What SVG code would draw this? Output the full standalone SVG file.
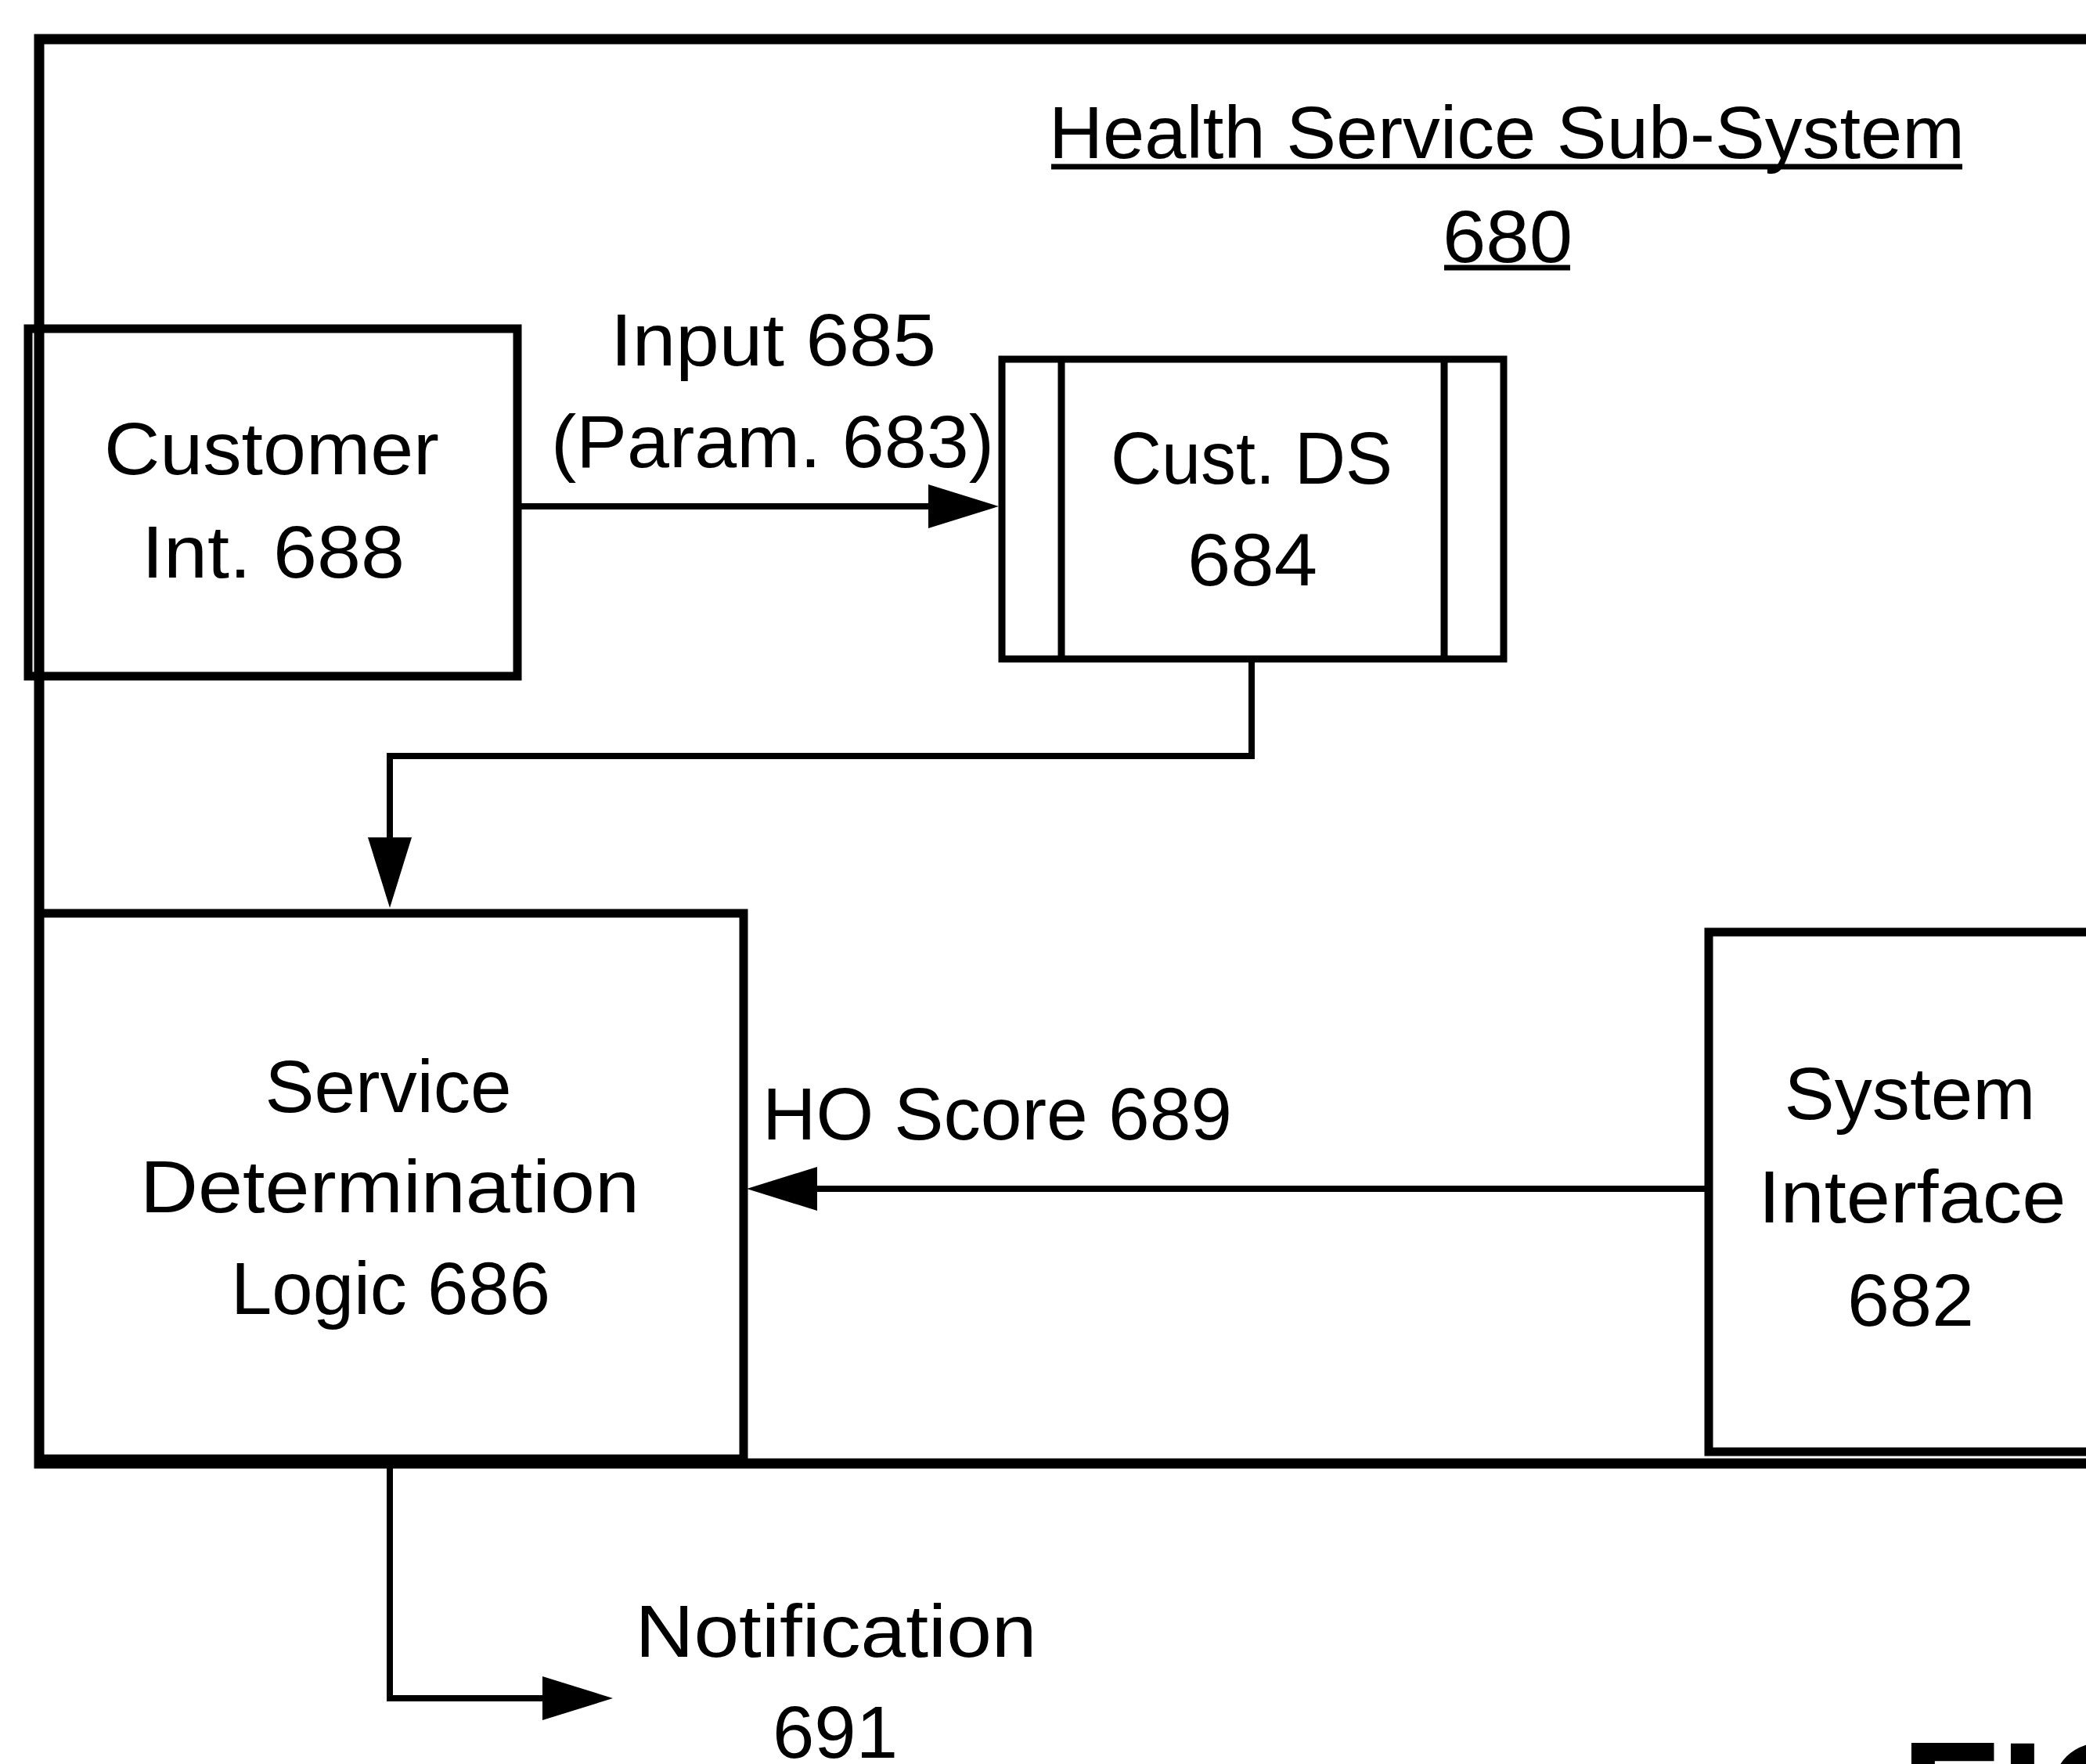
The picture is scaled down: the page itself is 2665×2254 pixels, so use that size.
<svg xmlns="http://www.w3.org/2000/svg" width="2665" height="2254" viewBox="0 0 2665 2254">
  <style>
    .box { fill: none; stroke: #000; stroke-width: 11; }
    .outer { fill: none; stroke: #000; stroke-width: 13; }
    .ds { fill: none; stroke: #000; stroke-width: 9; }
    .conn { fill: none; stroke: #000; stroke-width: 8; }
    .ul { stroke: #000; stroke-width: 7; }
    text { font-family: "Liberation Sans", Arial, sans-serif; font-size: 94px; fill: #000; text-anchor: middle; }
    .fig { font-weight: bold; font-size: 208px; text-anchor: start; }
  </style>
  <defs>
    <marker id="arrow" markerUnits="userSpaceOnUse" markerWidth="92" markerHeight="60" refX="10" refY="28" orient="auto" viewBox="0 0 92 60">
      <path d="M0,0 L90,28 L0,56 Z" fill="#000"/>
    </marker>
  </defs>
  <rect x="0" y="0" width="2665" height="2254" fill="#fff"/>

  <g id="subsystem-680">
    <rect class="outer" x="50" y="50" width="2700" height="1820"/>
    <text x="1925" y="202" textLength="1170" lengthAdjust="spacingAndGlyphs">Health Service Sub-System</text>
    <line class="ul" x1="1343" y1="213" x2="2507" y2="213"/>
    <text x="1926" y="335" textLength="166" lengthAdjust="spacingAndGlyphs">680</text>
    <line class="ul" x1="1845" y1="342" x2="2006" y2="342"/>
  </g>

  <g id="connectors">
    <path class="conn" d="M666,647 H1196" marker-end="url(#arrow)"/>
    <path class="conn" d="M1599,842 V966 H498 V1080" marker-end="url(#arrow)"/>
    <path class="conn" d="M2183,1519 H1034" marker-end="url(#arrow)"/>
    <path class="conn" d="M498,1869 V2170 H703" marker-end="url(#arrow)"/>
    <text x="988" y="467" textLength="416" lengthAdjust="spacingAndGlyphs">Input 685</text>
    <text x="987" y="597" textLength="566" lengthAdjust="spacingAndGlyphs">(Param. 683)</text>
    <text x="1274" y="1456" textLength="600" lengthAdjust="spacingAndGlyphs">HO Score 689</text>
    <text x="1068" y="2117" textLength="513" lengthAdjust="spacingAndGlyphs">Notification</text>
    <text x="1067" y="2246" textLength="160" lengthAdjust="spacingAndGlyphs">691</text>
  </g>

  <g id="customer-int-688">
    <rect class="box" x="36" y="420" width="625" height="444"/>
    <text x="347" y="606" textLength="428" lengthAdjust="spacingAndGlyphs">Customer</text>
    <text x="349" y="738" textLength="336" lengthAdjust="spacingAndGlyphs">Int. 688</text>
  </g>

  <g id="cust-ds-684">
    <rect class="ds" x="1280" y="459" width="641" height="383"/>
    <line class="ds" x1="1356" y1="459" x2="1356" y2="842"/>
    <line class="ds" x1="1845" y1="459" x2="1845" y2="842"/>
    <text x="1599" y="618" textLength="360" lengthAdjust="spacingAndGlyphs">Cust. DS</text>
    <text x="1600" y="748" textLength="166" lengthAdjust="spacingAndGlyphs">684</text>
  </g>

  <g id="service-determination-686">
    <rect class="box" x="50" y="1167" width="900" height="697"/>
    <text x="496" y="1421" textLength="315" lengthAdjust="spacingAndGlyphs">Service</text>
    <text x="498" y="1549" textLength="638" lengthAdjust="spacingAndGlyphs">Determination</text>
    <text x="499" y="1679" textLength="408" lengthAdjust="spacingAndGlyphs">Logic 686</text>
  </g>

  <g id="system-interface-682">
    <rect class="box" x="2183" y="1191" width="600" height="664"/>
    <text x="2440" y="1430" textLength="321" lengthAdjust="spacingAndGlyphs">System</text>
    <text x="2443" y="1562" textLength="393" lengthAdjust="spacingAndGlyphs">Interface</text>
    <text x="2441" y="1694" textLength="162" lengthAdjust="spacingAndGlyphs">682</text>
  </g>

  <text class="fig" x="2428" y="2371">FIG</text>
</svg>
